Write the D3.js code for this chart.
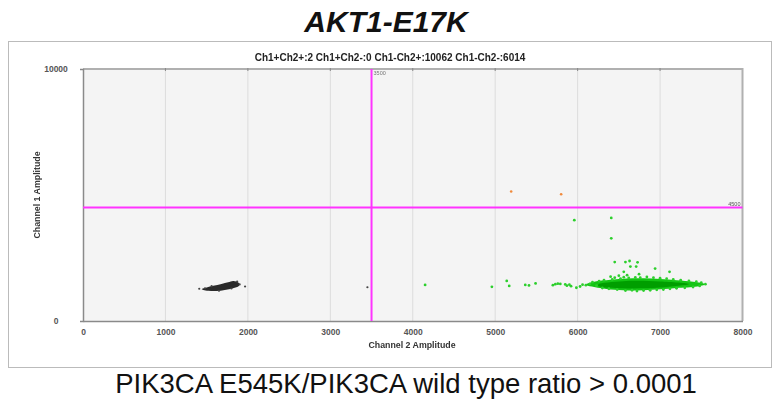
<!DOCTYPE html>
<html>
<head>
<meta charset="utf-8">
<script src="https://cdn.jsdelivr.net/npm/d3@7"></script>
<style>
  html, body { margin: 0; padding: 0; background: #fff; }
  svg { display: block; }
  text { font-family: "Liberation Sans", Arial, sans-serif; }
  .gray-aa { opacity: 0.999; }
</style>
</head>
<body>
<svg id="chart" width="772" height="405"></svg>
<script>
// Droplet amplitudes: Channel 2 (x) vs Channel 1 (y)
const xTicks = [0, 1000, 2000, 3000, 4000, 5000, 6000, 7000, 8000];
const yTicks = [0, 10000];
const thresholdCh2 = 3500;
const thresholdCh1 = 4500;
const counts = ["Ch1+Ch2+:2", "Ch1+Ch2-:0", "Ch1-Ch2+:10062", "Ch1-Ch2-:6014"];

// Dense cluster outlines (Ch2, Ch1)
const negClusterOutline = [
  [1440,1270],[1500,1330],[1580,1400],[1680,1470],[1760,1540],[1820,1590],[1860,1570],
  [1895,1490],[1890,1390],[1820,1300],[1720,1230],[1620,1190],[1520,1200],[1460,1235]
];
const posClusterOutline = [
  [6100,1450],[6200,1560],[6400,1640],[6600,1690],[6800,1700],[7000,1670],
  [7200,1620],[7400,1560],[7520,1500],[7545,1445],[7450,1370],[7200,1310],
  [7000,1260],[6800,1225],[6600,1215],[6400,1250],[6200,1345],[6110,1415]
];
const posClusterCore = [
  [6250,1450],[6550,1580],[7000,1570],[7350,1470],[7000,1330],[6550,1300],[6250,1390]
];

// Individual droplets
const negDroplets = [
  [1410,1280],[1966,1370],[3450,1340],[1480,1300],[1560,1380],[1870,1560],[1800,1290],
  [1900,1450],[1650,1200]
];
const posDroplets = [
  [6150,1470],[6180,1540],[6230,1400],[6260,1580],[6300,1310],[6320,1620],[6380,1280],
  [6420,1650],[6450,1720],[6480,1250],[6520,1680],[6560,1740],[6580,1210],[6620,1710],
  [6660,1220],[6700,1730],[6720,1190],[6760,1720],[6800,1210],[6840,1750],[6880,1220],
  [6920,1720],[6960,1240],[7000,1700],[7040,1250],[7080,1680],[7120,1280],[7160,1650],
  [7200,1300],[7250,1620],[7300,1320],[7350,1590],[7400,1350],[7440,1560],[7480,1390],
  [7500,1520],[7550,1460],[6100,1420],[6060,1440],
  [4150,1430],[4960,1355],[5140,1590],[5170,1390],[5365,1430],[5410,1410],[5490,1490],
  [5700,1420],[5730,1460],[5760,1480],[5790,1470],[5850,1450],[5870,1400],[5900,1440],
  [5920,1380],[5985,1320],[6030,1370],
  [5960,4000],[6408,4090],[6408,3280],[6450,2340],[6580,2340],[6630,2380],[6727,2330],
  [6640,2160],[6710,2160],[6940,2080],[7115,1950],[6560,1950],[6745,1860],[6500,1800],
  [6600,1820],[6400,1760]
];
const doubleDroplets = [[5194,5140],[5800,5030]];

const svg = d3.select("#chart");
const x = d3.scaleLinear().domain([0, 8000]).range([83, 742.5]);
const y = d3.scaleLinear().domain([0, 10000]).range([321, 69]);

// Title and outer frame
svg.append("text").attr("x", 386).attr("y", 32).attr("text-anchor", "middle")
  .attr("font-size", 30).attr("font-weight", "bold").attr("font-style", "italic")
  .attr("fill", "#111").text("AKT1-E17K");

svg.append("rect").attr("x", 8.5).attr("y", 41.5).attr("width", 763).attr("height", 326)
  .attr("fill", "#fff").attr("stroke", "#bbb").attr("stroke-width", 1);

// Plot area
svg.append("rect").attr("x", x(0)).attr("y", y(10000))
  .attr("width", x(8000) - x(0)).attr("height", y(0) - y(10000)).attr("fill", "#f4f4f4");

svg.append("g").selectAll("line").data(xTicks.slice(1, -1)).join("line")
  .attr("x1", d => x(d)).attr("x2", d => x(d))
  .attr("y1", y(10000)).attr("y2", y(0))
  .attr("stroke", "#dcdcdc").attr("stroke-width", 1);

// Frame: top/right lighter, left/bottom axis darker
svg.append("path")
  .attr("d", `M${x(0)},${y(10000)}H${x(8000)}V${y(0)}`)
  .attr("fill", "none").attr("stroke", "#b0b0b0").attr("stroke-width", 2);

const xAxis = d3.axisBottom(x).tickValues(xTicks).tickSize(0).tickPadding(8)
  .tickFormat(d3.format("d"));
const gx = svg.append("g").attr("class", "gray-aa")
  .attr("transform", `translate(0,${y(0)})`).call(xAxis);
gx.select(".domain").attr("stroke", "#8a8a8a").attr("stroke-width", 1.5);
gx.selectAll("text").attr("font-size", 8.5).attr("font-weight", "bold").attr("fill", "#555")
  .attr("font-family", "Liberation Sans, Arial, sans-serif");

// small tick marks on the top edge
svg.append("g").selectAll("line").data(xTicks.slice(1, -1)).join("line")
  .attr("x1", d => x(d)).attr("x2", d => x(d))
  .attr("y1", y(10000) - 1).attr("y2", y(10000) + 2).attr("stroke", "#888");

const yAxis = d3.axisLeft(y).tickValues(yTicks).tickSize(3).tickPadding(24)
  .tickFormat(d3.format("d"));
const gy = svg.append("g").attr("class", "gray-aa")
  .attr("transform", `translate(${x(0)},0)`).call(yAxis);
gy.select(".domain").attr("stroke", "#8a8a8a").attr("stroke-width", 1.5);
gy.selectAll(".tick line").attr("stroke", "#888");
gy.selectAll("text").attr("font-size", 8.5).attr("font-weight", "bold").attr("fill", "#555")
  .attr("text-anchor", "middle")
  .attr("font-family", "Liberation Sans, Arial, sans-serif");

// Droplet clusters
const line = d3.line().x(d => x(d[0])).y(d => y(d[1])).curve(d3.curveCatmullRomClosed);
svg.append("path").datum(negClusterOutline).attr("d", line).attr("fill", "#2a2a2a");
svg.append("g").selectAll("circle").data(negDroplets).join("circle")
  .attr("cx", d => x(d[0])).attr("cy", d => y(d[1])).attr("r", 1.1).attr("fill", "#444");

svg.append("path").datum(posClusterOutline).attr("d", line).attr("fill", "#14c414");
svg.append("path").datum(posClusterCore).attr("d", line).attr("fill", "#009e00");
svg.append("g").selectAll("circle").data(posDroplets).join("circle")
  .attr("cx", d => x(d[0])).attr("cy", d => y(d[1])).attr("r", 1.4).attr("fill", "#2ccf2c");

svg.append("g").selectAll("circle").data(doubleDroplets).join("circle")
  .attr("cx", d => x(d[0])).attr("cy", d => y(d[1])).attr("r", 1.3).attr("fill", "#f08a3c");

// Threshold lines
svg.append("line").attr("x1", x(thresholdCh2)).attr("x2", x(thresholdCh2))
  .attr("y1", y(10000)).attr("y2", y(0)).attr("stroke", "#ff33ff").attr("stroke-width", 2);
svg.append("line").attr("x1", x(0)).attr("x2", x(8000))
  .attr("y1", y(thresholdCh1)).attr("y2", y(thresholdCh1))
  .attr("stroke", "#ff33ff").attr("stroke-width", 2);

// Small text labels
const labels = svg.append("g").attr("class", "gray-aa");

labels.append("text").attr("x", 390).attr("y", 61).attr("text-anchor", "middle")
  .attr("font-size", 10).attr("font-weight", "bold").attr("fill", "#222")
  .text(counts.join("  "));

labels.append("text").attr("x", x(thresholdCh2) + 2).attr("y", y(10000) + 6)
  .attr("font-size", 5.5).attr("fill", "#777").text(thresholdCh2);
labels.append("text").attr("x", x(8000) - 2).attr("y", y(thresholdCh1) - 2)
  .attr("text-anchor", "end").attr("font-size", 5.5).attr("fill", "#555").text(thresholdCh1);

labels.append("text").attr("x", 412).attr("y", 348).attr("text-anchor", "middle")
  .attr("font-size", 8.8).attr("font-weight", "bold").attr("fill", "#333")
  .text("Channel 2 Amplitude");
labels.append("text").attr("transform", `translate(40,195) rotate(-90)`)
  .attr("text-anchor", "middle").attr("font-size", 8.8).attr("font-weight", "bold")
  .attr("fill", "#333").text("Channel 1 Amplitude");

// Caption
svg.append("text").attr("x", 406).attr("y", 393).attr("text-anchor", "middle")
  .attr("font-size", 27.5).attr("fill", "#111")
  .text("PIK3CA E545K/PIK3CA wild type ratio > 0.0001");
</script>
</body>
</html>
